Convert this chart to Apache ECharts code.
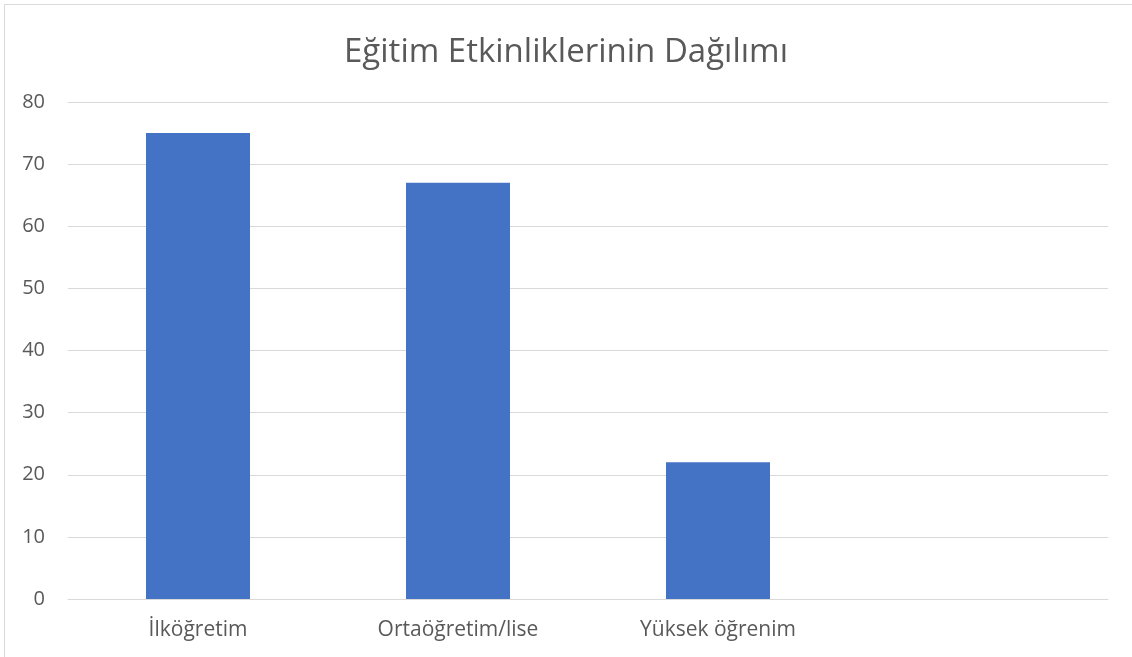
<!DOCTYPE html>
<html><head><meta charset="utf-8">
<script src="https://cdn.jsdelivr.net/npm/echarts@6/dist/echarts.min.js"></script>
<style>
html,body{margin:0;padding:0;background:#fff;overflow:hidden;}
#frame{position:absolute;left:4px;top:4px;width:1140px;height:670px;border:1px solid #d9d9d9;box-sizing:border-box;}
#c{position:absolute;left:0;top:0;width:1132px;height:657px;}
</style></head>
<body>
<div id="frame"></div>
<div id="c"></div>
<script>
const titleText = 'Eğitim Etkinliklerinin Dağılımı';
const categories = ['İlköğretim', 'Ortaöğretim/lise', 'Yüksek öğrenim', ''];
const values = [75, 67, 22, null];
const yTicks = {min: 0, max: 80, interval: 10};

const chart = echarts.init(document.getElementById('c'), null, {renderer: 'canvas'});
const font = '"Open Sans", "Liberation Sans", sans-serif';
chart.setOption({
  animation: false,
  title: {
    text: titleText, left: 'center', top: 31,
    textStyle: {fontFamily: font, fontSize: 33, fontWeight: 'normal', color: '#595959'}
  },
  grid: {left: 68, right: 24, top: 102, bottom: 58, containLabel: false},
  xAxis: {
    type: 'category', data: categories,
    axisLine: {lineStyle: {color: '#d9d9d9', width: 1}},
    axisTick: {show: false},
    axisLabel: {fontFamily: font, fontSize: 21, color: '#595959', margin: 21}
  },
  yAxis: {
    type: 'value', min: yTicks.min, max: yTicks.max, interval: yTicks.interval,
    axisLine: {show: false}, axisTick: {show: false},
    splitLine: {lineStyle: {color: '#d9d9d9', width: 1}},
    axisLabel: {fontFamily: font, fontSize: 20, color: '#595959', margin: 23}
  },
  series: [{
    type: 'bar', data: values, barWidth: '40%',
    itemStyle: {color: '#4472c4'}
  }]
});
</script>
</body></html>
